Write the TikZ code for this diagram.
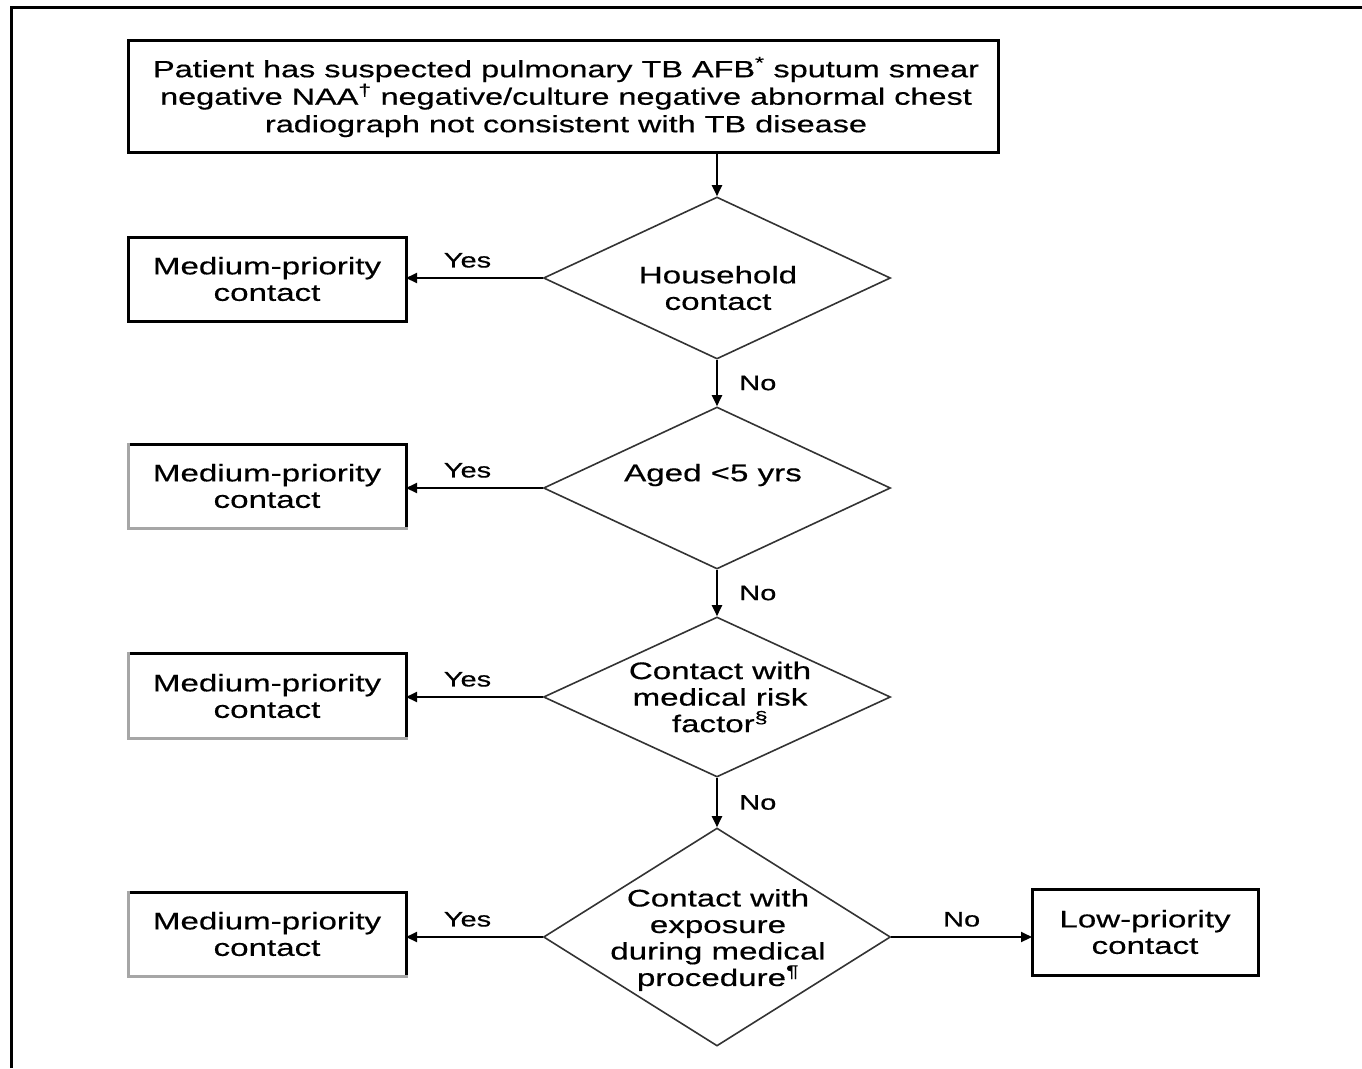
\documentclass[tikz,border=0pt]{standalone}
\usepackage{fontspec}
\setmainfont{Liberation Sans}[FakeStretch=1.38,FakeBold=0.5]
\usetikzlibrary{shapes.geometric,arrows.meta}
\begin{document}
\begin{tikzpicture}[x=1pt,y=-1pt,
  every node/.style={font=\fontsize{24}{26.5}\selectfont, align=center},
  box/.style={draw, line width=3pt, inner sep=0pt, outer sep=0pt},
  decision/.style={draw=black!80, line width=1.6pt, diamond, inner sep=0pt},
  flow/.style={line width=2pt, -{Triangle[length=11pt,width=10pt]}},
  ans/.style={font=\fontsize{21}{24}\selectfont},
  plain/.style={inner sep=0pt},
  faded/.style={draw=black!35, line width=3pt, line cap=rect}
]
\useasboundingbox (0,0) rectangle (1362,1068);

% frame edges
\draw[line width=3pt] (11.5,1068) -- (11.5,7.5) -- (1362,7.5);

% starting condition
\node[box, minimum width=870, minimum height=112] (start) at (563,96) {};
\node[plain, font=\fontsize{23.5}{27.5}\selectfont] (startt) at (566,97)
  {Patient has suspected pulmonary TB AFB\textsuperscript{*} sputum smear\\
   negative NAA\textsuperscript{†} negative/culture negative abnormal chest\\
   radiograph not consistent with TB disease};

% decisions
\node[decision, minimum width=347, minimum height=162] (d1) at (717,278) {};
\node[decision, minimum width=347, minimum height=162] (d2) at (717,488) {};
\node[decision, minimum width=347, minimum height=160] (d3) at (717,697) {};
\node[decision, minimum width=347, minimum height=218] (d4) at (717,937) {};

\node[plain] (d1t) at (718,288) {Household\\contact};
\node[plain] (d2t) at (713,475) {Aged <5 yrs};
\node[plain] (d3t) at (720,697) {Contact with\\medical risk\\factor\textsuperscript{§}};
\node[plain] (d4t) at (718,940) {Contact with\\exposure\\during medical\\procedure\textsuperscript{¶}};

% outcomes
\node[box, minimum width=278, minimum height=84] (m1) at (267,279) {Medium-priority\\contact};
\node[box, minimum width=278, minimum height=84] (m2) at (267,486) {Medium-priority\\contact};
\node[box, minimum width=278, minimum height=85] (m3) at (267,696) {Medium-priority\\contact};
\node[box, minimum width=278, minimum height=84] (m4) at (267,934) {Medium-priority\\contact};
\node[box, minimum width=226, minimum height=86] (low) at (1145,932) {Low-priority\\contact};

% lighter left and lower edges of the lower outcome boxes
\foreach \b in {m2,m3,m4}
  \draw[faded] (\b.north west) -- (\b.south west) -- (\b.south east);

% connectors
\draw[flow] (d1.north |- start.south) -- (d1.north);
\draw[flow] (d1.south) -- node[ans, right=18pt] {No} (d2.north);
\draw[flow] (d2.south) -- node[ans, right=18pt] {No} (d3.north);
\draw[flow] (d3.south) -- node[ans, right=18pt] {No} (d4.north);

\draw[flow] (d1.west) -- node[ans, above=6pt, pos=0.55] {Yes} (m1.east |- d1.west);
\draw[flow] (d2.west) -- node[ans, above=6pt, pos=0.55] {Yes} (m2.east |- d2.west);
\draw[flow] (d3.west) -- node[ans, above=6pt, pos=0.55] {Yes} (m3.east |- d3.west);
\draw[flow] (d4.west) -- node[ans, above=6pt, pos=0.55] {Yes} (m4.east |- d4.west);
\draw[flow] (d4.east) -- node[ans, above=6pt] {No} (low.west |- d4.east);
\end{tikzpicture}
\end{document}
